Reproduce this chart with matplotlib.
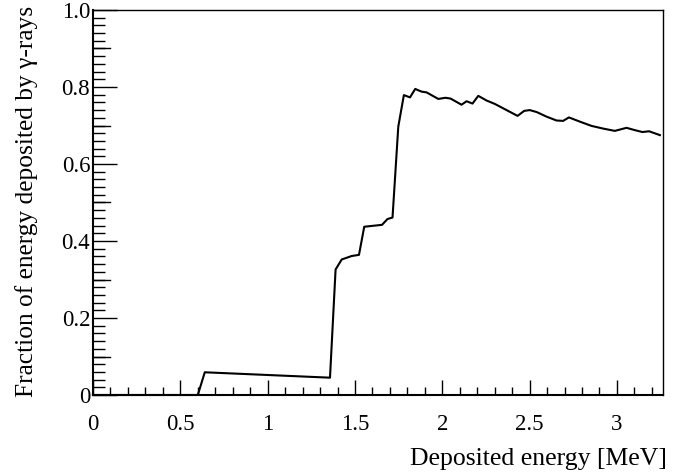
import matplotlib
matplotlib.use("Agg")
import matplotlib.pyplot as plt
from matplotlib.ticker import MultipleLocator, FixedLocator, FixedFormatter

plt.rcParams['font.family'] = ['Liberation Serif', 'DejaVu Serif']

energy = [0.0, 0.60, 0.64, 1.357, 1.389, 1.424, 1.481, 1.523, 1.553, 1.655, 1.686, 1.715,
          1.748, 1.780, 1.815, 1.845, 1.881, 1.910, 1.977, 2.018, 2.047, 2.110, 2.139,
          2.173, 2.206, 2.253, 2.301, 2.368, 2.431, 2.469, 2.501, 2.540, 2.597, 2.654,
          2.692, 2.725, 2.788, 2.854, 2.921, 2.988, 3.055, 3.102, 3.146, 3.184, 3.246]
fraction = [0.0, 0.0, 0.059, 0.045, 0.326, 0.352, 0.361, 0.364, 0.437, 0.442, 0.457, 0.461,
            0.697, 0.779, 0.773, 0.795, 0.788, 0.786, 0.769, 0.772, 0.770, 0.754, 0.763,
            0.757, 0.777, 0.765, 0.756, 0.740, 0.725, 0.738, 0.740, 0.735, 0.723, 0.713,
            0.712, 0.721, 0.710, 0.699, 0.692, 0.686, 0.694, 0.688, 0.683, 0.685, 0.675]

xticks = [0, 0.5, 1, 1.5, 2, 2.5, 3]
xticklabels = ['0', '0.5', '1', '1.5', '2', '2.5', '3']
yticks = [0, 0.2, 0.4, 0.6, 0.8, 1.0]
yticklabels = ['0', '0.2', '0.4', '0.6', '0.8', '1.0']

fig = plt.figure(figsize=(6.91, 4.76), dpi=100)
ax = fig.add_axes([93/691, (476-395)/476, (662.7-93)/691, (395-10)/476])

ax.plot(energy, fraction, color='black', lw=1.5, clip_on=False, zorder=3)

ax.set_xlim(0, 3.262)
ax.set_ylim(0, 1.0)

ax.xaxis.set_major_locator(FixedLocator(xticks))
ax.xaxis.set_major_formatter(FixedFormatter(xticklabels))
ax.xaxis.set_minor_locator(MultipleLocator(0.1))
ax.yaxis.set_major_locator(FixedLocator(yticks))
ax.yaxis.set_major_formatter(FixedFormatter(yticklabels))
ax.yaxis.set_minor_locator(MultipleLocator(0.02))

ax.tick_params(axis='x', which='major', direction='in', length=11, width=1, labelsize=16.5, pad=14)
ax.tick_params(axis='x', which='minor', direction='in', length=5.5, width=1)
ax.tick_params(axis='y', which='major', direction='in', length=17, width=1, labelsize=16.5, pad=2)
ax.tick_params(axis='y', which='minor', direction='in', length=8.5, width=1)

# medium ticks at each 0.1 on y
for v in [0.1, 0.3, 0.5, 0.7, 0.9]:
    ax.plot([0, 0.03], [v, v], color='black', lw=1, transform=ax.get_yaxis_transform(), clip_on=False)

ax.spines['left'].set_linewidth(1.5)
ax.spines['bottom'].set_linewidth(1.5)
ax.spines['top'].set_linewidth(1.0)
ax.spines['right'].set_linewidth(1.0)

fig.text(667/691, (476-465)/476, 'Deposited energy [MeV]', ha='right', va='baseline', fontsize=18.5)
fig.text(27/691, 470/476, 'Fraction of energy deposited by γ-rays', rotation=90,
         ha='center', va='top', fontsize=18.3)

fig.savefig('out.png', dpi=100)
